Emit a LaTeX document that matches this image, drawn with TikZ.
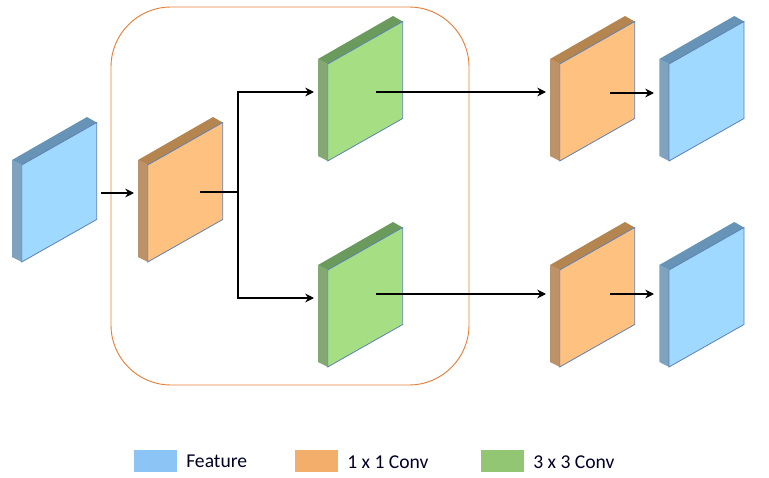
\documentclass[tikz,border=0pt]{standalone}
\usepackage{fontspec}
\setmainfont{Carlito}
\usetikzlibrary{positioning}
\usetikzlibrary{arrows.meta}
\definecolor{featfront}{HTML}{9FD9FF}
\definecolor{feattop}{HTML}{6693B6}
\definecolor{featside}{HTML}{7FA2BF}
\definecolor{convfront}{HTML}{FFC180}
\definecolor{convtop}{HTML}{B5854F}
\definecolor{convside}{HTML}{BC9269}
\definecolor{greenfront}{HTML}{A6DE84}
\definecolor{greentop}{HTML}{6A9A5C}
\definecolor{greenside}{HTML}{83A874}
\definecolor{blockedge}{HTML}{5B80B5}
\definecolor{groupedge}{HTML}{E67F3A}
\definecolor{legendfeat}{HTML}{8CC4F5}
\definecolor{legendconv}{HTML}{F4AE6C}
\definecolor{legendgreen}{HTML}{93C672}
\tikzset{blockspan/.style={rectangle,draw=none,inner sep=0pt,
minimum width=63.4pt,minimum height=108.8pt}}
\tikzset{groupbox/.style={rectangle,draw=groupedge,line width=0.7pt,rounded corners=45pt,
inner sep=0pt,minimum width=268.5pt,minimum height=283.5pt}}
\tikzset{flow/.style={line width=1.4pt,-{Stealth[length=6.5pt,width=6.5pt]}}}
\tikzset{flowline/.style={line width=1.5pt}}
\tikzset{legendbox/.style={rectangle,draw=none,inner sep=0pt,minimum width=32.25pt,minimum height=16.5pt}}
\tikzset{legendtext/.style={inner sep=0pt,font=\fontsize{14.7}{17}\selectfont,text=black!85!blue}}
% name, x and y of the corner where side and top meet, colour prefix
\newcommand{\layerblock}[4]{
    \node[blockspan] (#1) at (#2+42.25,#3+29.5) {};
    \fill[#4side] (#2,#3) -- (#2+9.7,#3+5) -- (#2+9.7,#3+102) -- (#2,#3+97) -- cycle;
    \fill[#4top] (#2,#3) -- (#2+75,#3-43) -- (#2+84.7,#3-37.5) -- (#2+9.7,#3+5) -- cycle;
    \filldraw[fill=#4front,draw=blockedge,line width=0.6pt] (#2+9.7,#3+5) -- (#2+84.7,#3-37.5) -- (#2+84.7,#3+59.5) -- (#2+9.7,#3+102) -- cycle;
}
\begin{document}
\begin{tikzpicture}[x=0.75pt,y=-0.75pt]
    \useasboundingbox (0,0) rectangle (769,478);

    \node[groupbox] (group) at (290,196) {};

    \layerblock{featIn}{12}{160}{feat}
    \layerblock{convIn}{138}{160}{conv}
    \layerblock{greenA}{318}{59}{green}
    \layerblock{greenB}{318}{265}{green}
    \layerblock{convA}{550}{59}{conv}
    \layerblock{convB}{550}{265}{conv}
    \layerblock{featA}{659.3}{59}{feat}
    \layerblock{featB}{659.3}{265}{feat}

    \coordinate (featInr) at (101,193);
    \coordinate (convInl) at (134,193);
    \coordinate (convInr) at (200,192);
    \coordinate (branch) at (238,192);
    \coordinate (greenAl) at (314,92);
    \coordinate (greenBl) at (314,298);
    \coordinate (greenAr) at (376,92);
    \coordinate (greenBr) at (376,294);
    \coordinate (convAl) at (546,92);
    \coordinate (convBl) at (546,294);
    \coordinate (convAr) at (610,93);
    \coordinate (convBr) at (610,294);
    \coordinate (featAl) at (654,93);
    \coordinate (featBl) at (654,294);

    \draw[flow] (featInr) -- (convInl);
    \draw[flowline] (convInr) -- (branch);
    \draw[flow] (branch) |- (greenAl);
    \draw[flow] (branch) |- (greenBl);
    \draw[flow] (greenAr) -- (convAl);
    \draw[flow] (greenBr) -- (convBl);
    \draw[flow] (convAr) -- (featAl);
    \draw[flow] (convBr) -- (featBl);

    \node[legendbox,fill=legendfeat] (keyFeat) at (155.5,460.5) {};
    \node[legendbox,fill=legendconv] (keyConv) at (316.5,461) {};
    \node[legendbox,fill=legendgreen] (keyGreen) at (502.5,461) {};
    \node[legendtext,anchor=west] (keyFeatText) at (186,461) {Feature};
    \node[legendtext,anchor=west] (keyConvText) at (347,462) {1 x 1 Conv};
    \node[legendtext,anchor=west] (keyGreenText) at (533,462) {3 x 3 Conv};
\end{tikzpicture}
\end{document}
